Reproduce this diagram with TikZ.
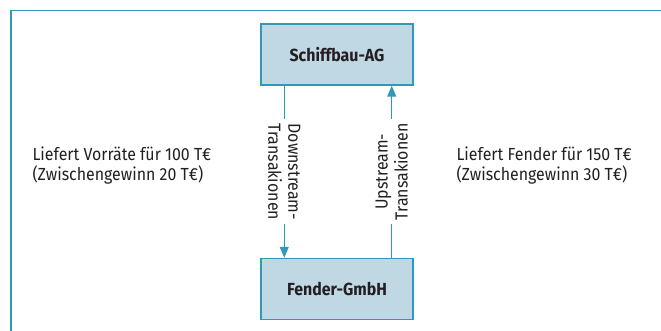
\documentclass[tikz,border=0pt]{standalone}
\usepackage{fontspec}
\setmainfont[FakeStretch=0.91]{Fira Sans}
\usetikzlibrary{arrows.meta, positioning}
\definecolor{frameteal}{HTML}{2E9AB6}
\definecolor{boxfill}{HTML}{C0D8E4}
\definecolor{textgray}{HTML}{231F20}

\begin{document}
\begin{tikzpicture}[x=1pt, y=-1pt, font=\fontsize{17.5}{20}\selectfont, text=textgray,
  firm/.style={draw=frameteal, line width=1.5pt, fill=boxfill,
    minimum width=152pt, minimum height=61pt, font=\fontsize{17.5}{20}\selectfont\bfseries},
  flow/.style={draw=frameteal, line width=1.2pt, -{Triangle[length=11pt, width=9pt]}},
  flowlabel/.style={fill=white, align=center, inner sep=4pt}]

  \useasboundingbox (0,0) rectangle (661,331);

  % frame, open to the right and the bottom
  \draw[frameteal, line width=1.8pt] (11,331) -- (11,10.5) -- (661,10.5);

  % companies
  \node[firm] (ag)   at (337,54.5) {Schiffbau-AG};
  \node[firm] (gmbh) at (337,289)  {Fender-GmbH};

  % downstream (left) and upstream (right)
  \draw[flow] ([xshift=24pt]ag.south west) -- ([xshift=24pt]gmbh.north west)
    node[midway, flowlabel, rotate=-90] (down) {Downstream-\\Transakionen};
  \draw[flow] ([xshift=-22pt]gmbh.north east) -- ([xshift=-22pt]ag.south east)
    node[midway, flowlabel, rotate=90] (up) {Upstream-\\Transakionen};

  % deliveries
  \node[align=left, anchor=west] (vorraete) at (29,166)
    {Liefert Vorräte für 100 T€\\(Zwischengewinn 20 T€)};
  \node[align=left, anchor=west] (fender) at (453,166)
    {Liefert Fender für 150 T€\\(Zwischengewinn 30 T€)};

\end{tikzpicture}
\end{document}
